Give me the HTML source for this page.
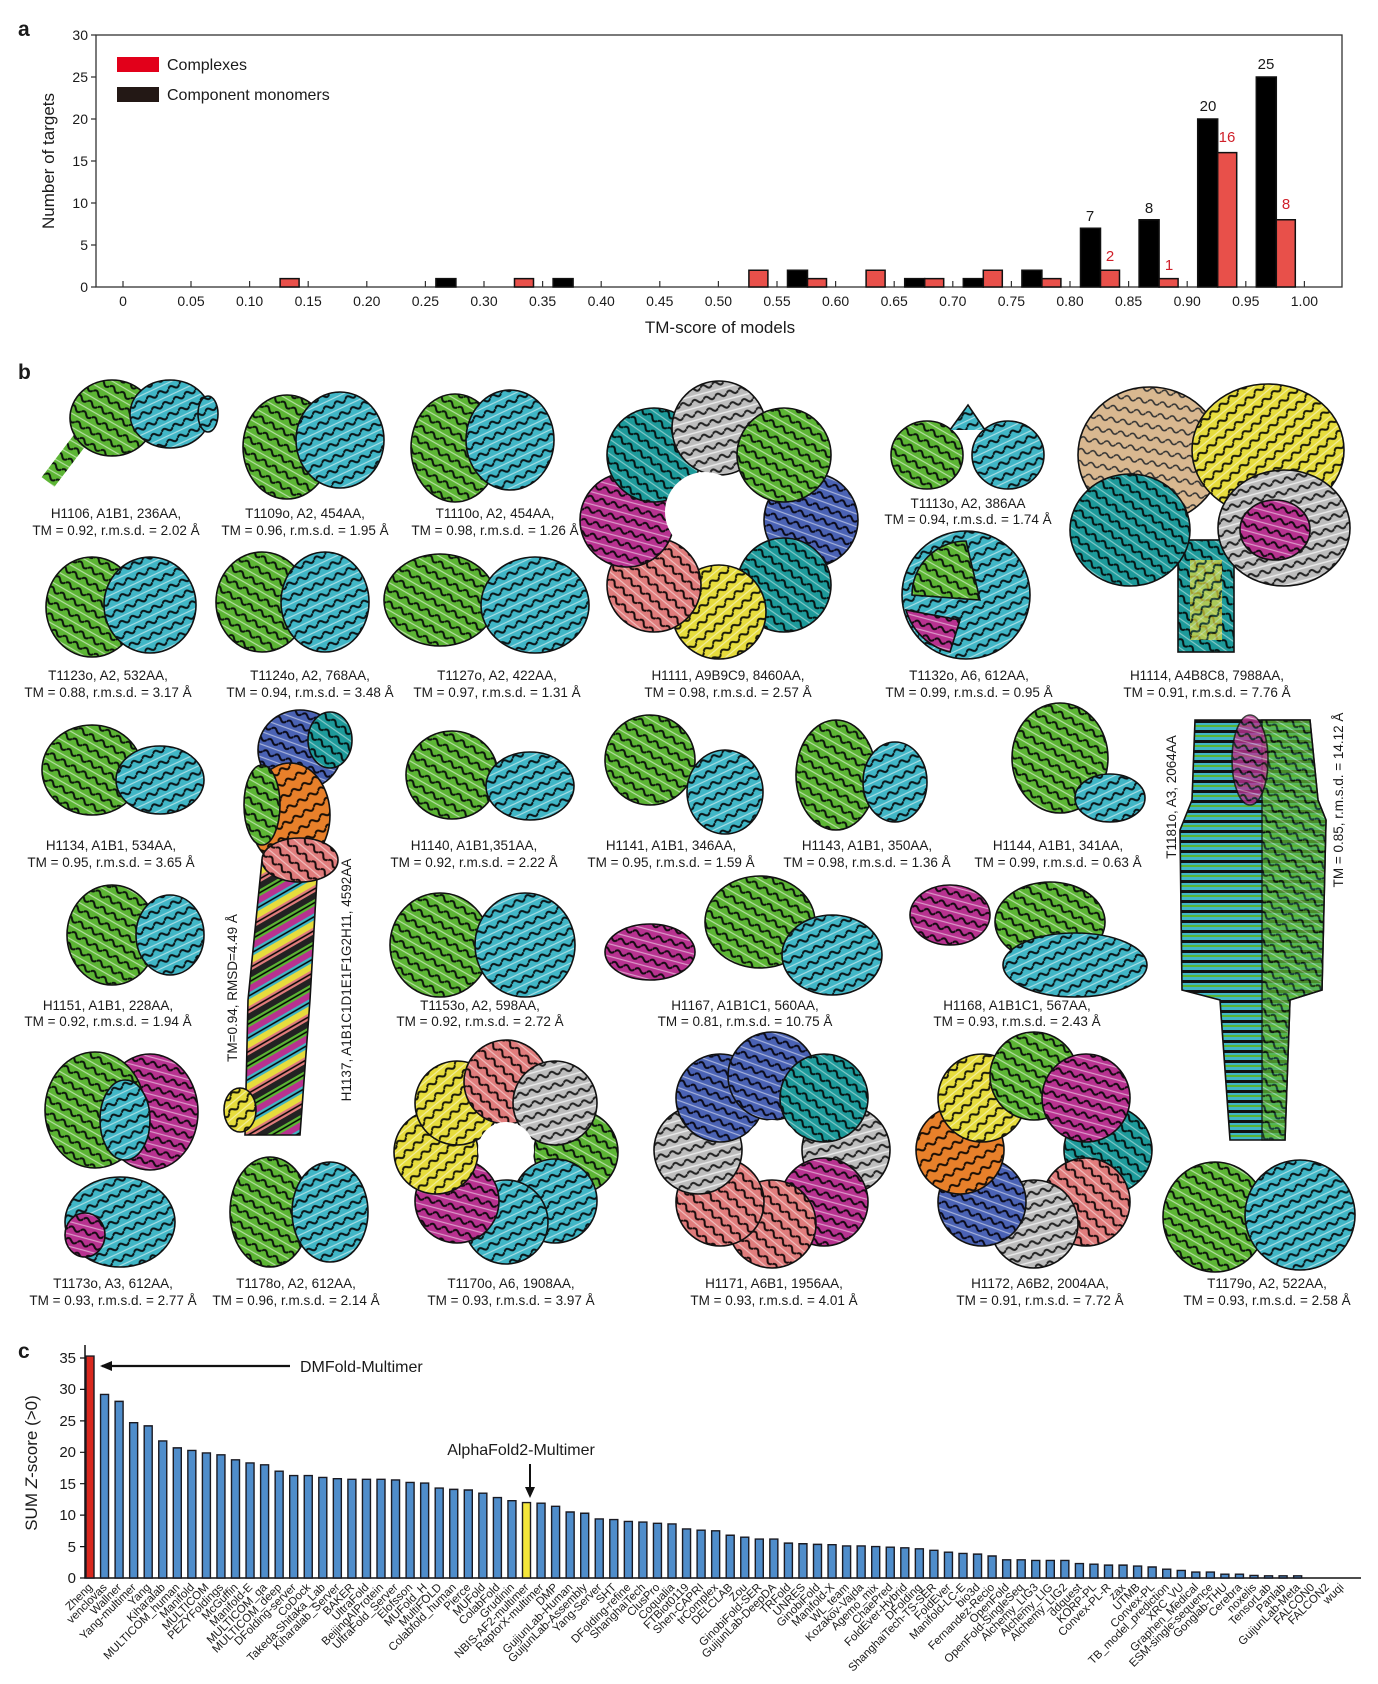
<!DOCTYPE html>
<html><head><meta charset="utf-8"><style>
html,body{margin:0;padding:0;background:#fff}
svg{display:block}
text{font-family:"Liberation Sans",sans-serif;fill:#1a1a1a}
.lb{font-size:13.5px;text-anchor:middle}
.tk{font-size:14px}
.cl{font-size:11.5px;fill:#333;text-anchor:end}
</style></head><body>
<svg width="1378" height="1684" viewBox="0 0 1378 1684" xmlns="http://www.w3.org/2000/svg">
<defs>
<pattern id="G" width="12" height="12" patternUnits="userSpaceOnUse" patternTransform="rotate(30)"><rect width="12" height="12" fill="#5cb534"/><path d="M0 4 Q3 0 6 4 T12 4" stroke="#0c150c" stroke-width="2" fill="none"/><path d="M0 10 h12" stroke="#fff" stroke-width="1.2" opacity=".55"/></pattern>
<pattern id="C" width="12" height="12" patternUnits="userSpaceOnUse" patternTransform="rotate(-25)"><rect width="12" height="12" fill="#40b6c6"/><path d="M0 4 Q3 0 6 4 T12 4" stroke="#0a1518" stroke-width="2" fill="none"/><path d="M0 10 h12" stroke="#fff" stroke-width="1.2" opacity=".55"/></pattern>
<pattern id="M" width="12" height="12" patternUnits="userSpaceOnUse" patternTransform="rotate(15)"><rect width="12" height="12" fill="#b83290"/><path d="M0 4 Q3 0 6 4 T12 4" stroke="#150a12" stroke-width="2" fill="none"/><path d="M0 10 h12" stroke="#fff" stroke-width="1.2" opacity=".5"/></pattern>
<pattern id="P" width="12" height="12" patternUnits="userSpaceOnUse" patternTransform="rotate(40)"><rect width="12" height="12" fill="#e07c7c"/><path d="M0 4 Q3 0 6 4 T12 4" stroke="#1a0c0c" stroke-width="2" fill="none"/><path d="M0 10 h12" stroke="#fff" stroke-width="1.2" opacity=".5"/></pattern>
<pattern id="Y" width="12" height="12" patternUnits="userSpaceOnUse" patternTransform="rotate(-40)"><rect width="12" height="12" fill="#e6dc3c"/><path d="M0 4 Q3 0 6 4 T12 4" stroke="#1a1a0a" stroke-width="2" fill="none"/><path d="M0 10 h12" stroke="#fff" stroke-width="1.2" opacity=".5"/></pattern>
<pattern id="B" width="12" height="12" patternUnits="userSpaceOnUse" patternTransform="rotate(20)"><rect width="12" height="12" fill="#4a62b4"/><path d="M0 4 Q3 0 6 4 T12 4" stroke="#0a0a1a" stroke-width="2" fill="none"/><path d="M0 10 h12" stroke="#fff" stroke-width="1.2" opacity=".5"/></pattern>
<pattern id="W" width="12" height="12" patternUnits="userSpaceOnUse" patternTransform="rotate(-15)"><rect width="12" height="12" fill="#bdbdbd"/><path d="M0 4 Q3 0 6 4 T12 4" stroke="#222" stroke-width="2" fill="none"/><path d="M0 10 h12" stroke="#fff" stroke-width="1.4" opacity=".7"/></pattern>
<pattern id="T" width="12" height="12" patternUnits="userSpaceOnUse" patternTransform="rotate(35)"><rect width="12" height="12" fill="#1d9a9a"/><path d="M0 4 Q3 0 6 4 T12 4" stroke="#061414" stroke-width="2" fill="none"/><path d="M0 10 h12" stroke="#fff" stroke-width="1.2" opacity=".45"/></pattern>
<pattern id="O" width="12" height="12" patternUnits="userSpaceOnUse" patternTransform="rotate(-30)"><rect width="12" height="12" fill="#e8802a"/><path d="M0 4 Q3 0 6 4 T12 4" stroke="#1a0e05" stroke-width="2" fill="none"/></pattern>
<pattern id="N" width="12" height="12" patternUnits="userSpaceOnUse" patternTransform="rotate(10)"><rect width="12" height="12" fill="#d9b890"/><path d="M0 4 Q3 0 6 4 T12 4" stroke="#333" stroke-width="1.6" fill="none"/></pattern>
<pattern id="R" width="36" height="36" patternUnits="userSpaceOnUse" patternTransform="rotate(-30)"><rect width="36" height="36" fill="#222"/><rect y="0" width="36" height="6" fill="#5cb534"/><rect y="6" width="36" height="6" fill="#b83290"/><rect y="12" width="36" height="6" fill="#40b6c6"/><rect y="18" width="36" height="6" fill="#e6dc3c"/><rect y="24" width="36" height="6" fill="#e07c7c"/><path d="M0 3 h36 M0 15 h36 M0 27 h36" stroke="#000" stroke-width="1.5"/></pattern>
<pattern id="S" width="10" height="10" patternUnits="userSpaceOnUse"><rect width="10" height="10" fill="#40b6c6"/><rect width="10" height="3" fill="#111"/><rect y="5" width="10" height="2" fill="#5cb534"/></pattern>
</defs>

<!-- ===== Panel a ===== -->
<text x="18" y="36" style="font-size:21px;font-weight:bold">a</text>
<rect x="96" y="35" width="1246" height="252" fill="none" stroke="#333" stroke-width="1.3"/>
<g class="tk" text-anchor="end">
<text x="88" y="292">0</text><text x="88" y="250">5</text><text x="88" y="208">10</text><text x="88" y="166">15</text><text x="88" y="124">20</text><text x="88" y="82">25</text><text x="88" y="40">30</text>
</g>
<path d="M91 287h5M91 245h5M91 203h5M91 161h5M91 119h5M91 77h5M91 35h5" stroke="#333" stroke-width="1.2"/>
<path d="M123 281v6M191 281v6M249.6 281v6M308.2 281v6M366.8 281v6M425.4 281v6M484 281v6M542.6 281v6M601.2 281v6M659.8 281v6M718.4 281v6M777 281v6M835.6 281v6M894.2 281v6M952.8 281v6M1011.4 281v6M1070 281v6M1128.6 281v6M1187.2 281v6M1245.8 281v6M1304.4 281v6" stroke="#333" stroke-width="1.2"/>
<g class="tk" text-anchor="middle">
<text x="123" y="306">0</text><text x="191" y="306">0.05</text><text x="249.6" y="306">0.10</text><text x="308.2" y="306">0.15</text><text x="366.8" y="306">0.20</text><text x="425.4" y="306">0.25</text><text x="484" y="306">0.30</text><text x="542.6" y="306">0.35</text><text x="601.2" y="306">0.40</text><text x="659.8" y="306">0.45</text><text x="718.4" y="306">0.50</text><text x="777" y="306">0.55</text><text x="835.6" y="306">0.60</text><text x="894.2" y="306">0.65</text><text x="952.8" y="306">0.70</text><text x="1011.4" y="306">0.75</text><text x="1070" y="306">0.80</text><text x="1128.6" y="306">0.85</text><text x="1187.2" y="306">0.90</text><text x="1245.8" y="306">0.95</text><text x="1304.4" y="306">1.00</text>
</g>
<text x="720" y="333" text-anchor="middle" style="font-size:17px">TM-score of models</text>
<text transform="translate(54,161) rotate(-90)" text-anchor="middle" style="font-size:17px">Number of targets</text>
<rect x="117" y="57" width="42" height="15" fill="#e2001a"/>
<text x="167" y="70" style="font-size:16px">Complexes</text>
<rect x="117" y="87" width="42" height="15" fill="#231815"/>
<text x="167" y="100" style="font-size:16px">Component monomers</text>
<g transform="translate(0,287) scale(1,-8.4)" stroke="#111" stroke-width="1.5">
<g fill="#000">
<rect x="435.9" y="0" width="20" height="1" vector-effect="non-scaling-stroke"/>
<rect x="553.1" y="0" width="20" height="1" vector-effect="non-scaling-stroke"/>
<rect x="787.5" y="0" width="20" height="2" vector-effect="non-scaling-stroke"/>
<rect x="904.7" y="0" width="20" height="1" vector-effect="non-scaling-stroke"/>
<rect x="963.3" y="0" width="20" height="1" vector-effect="non-scaling-stroke"/>
<rect x="1021.9" y="0" width="20" height="2" vector-effect="non-scaling-stroke"/>
<rect x="1080.5" y="0" width="20" height="7" vector-effect="non-scaling-stroke"/>
<rect x="1139.1" y="0" width="20" height="8" vector-effect="non-scaling-stroke"/>
<rect x="1197.7" y="0" width="20" height="20" vector-effect="non-scaling-stroke"/>
<rect x="1256.3" y="0" width="20" height="25" vector-effect="non-scaling-stroke"/>
</g>
<g fill="#e8504a">
<rect x="280.1" y="0" width="19" height="1" vector-effect="non-scaling-stroke"/>
<rect x="514.5" y="0" width="19" height="1" vector-effect="non-scaling-stroke"/>
<rect x="748.9" y="0" width="19" height="2" vector-effect="non-scaling-stroke"/>
<rect x="807.5" y="0" width="19" height="1" vector-effect="non-scaling-stroke"/>
<rect x="866.1" y="0" width="19" height="2" vector-effect="non-scaling-stroke"/>
<rect x="924.7" y="0" width="19" height="1" vector-effect="non-scaling-stroke"/>
<rect x="983.3" y="0" width="19" height="2" vector-effect="non-scaling-stroke"/>
<rect x="1041.9" y="0" width="19" height="1" vector-effect="non-scaling-stroke"/>
<rect x="1100.5" y="0" width="19" height="2" vector-effect="non-scaling-stroke"/>
<rect x="1159.1" y="0" width="19" height="1" vector-effect="non-scaling-stroke"/>
<rect x="1217.7" y="0" width="19" height="16" vector-effect="non-scaling-stroke"/>
<rect x="1276.3" y="0" width="19" height="8" vector-effect="non-scaling-stroke"/>
</g>
</g>
<g style="font-size:15px" text-anchor="middle">
<text x="1090" y="221">7</text><text x="1149" y="213">8</text><text x="1208" y="111">20</text><text x="1266" y="69">25</text>
<text x="1110" y="261" style="fill:#d0202a">2</text><text x="1169" y="270" style="fill:#d0202a">1</text><text x="1227" y="142" style="fill:#d0202a">16</text><text x="1286" y="209" style="fill:#d0202a">8</text>
</g>

<!-- ===== Panel b ===== -->
<text x="18" y="379" style="font-size:21px;font-weight:bold">b</text>
<g stroke="#111" stroke-width="1.6">
<!-- H1106 -->
<path d="M48 482 L80 440 L112 412" stroke="url(#G)" stroke-width="16" fill="none"/>
<ellipse cx="112" cy="418" rx="42" ry="38" fill="url(#G)"/>
<ellipse cx="170" cy="414" rx="40" ry="34" fill="url(#C)"/>
<ellipse cx="208" cy="414" rx="10" ry="18" fill="url(#C)"/>
<!-- T1109o -->
<ellipse cx="287" cy="447" rx="44" ry="52" fill="url(#G)"/>
<ellipse cx="340" cy="440" rx="44" ry="48" fill="url(#C)"/>
<!-- T1110o -->
<ellipse cx="455" cy="448" rx="44" ry="54" fill="url(#G)"/>
<ellipse cx="510" cy="440" rx="44" ry="50" fill="url(#C)"/>
<!-- H1111 ring -->
<circle cx="811" cy="520" r="47" fill="url(#B)"/>
<circle cx="784" cy="585" r="47" fill="url(#T)"/>
<circle cx="719" cy="612" r="47" fill="url(#Y)"/>
<circle cx="654" cy="585" r="47" fill="url(#P)"/>
<circle cx="627" cy="520" r="47" fill="url(#M)"/>
<circle cx="654" cy="455" r="47" fill="url(#T)"/>
<circle cx="719" cy="428" r="47" fill="url(#W)"/>
<circle cx="784" cy="455" r="47" fill="url(#G)"/>
<circle cx="705" cy="512" r="40" fill="#fff" stroke="none"/>
<!-- T1113o -->
<ellipse cx="927" cy="455" rx="36" ry="34" fill="url(#G)"/>
<ellipse cx="1008" cy="455" rx="36" ry="34" fill="url(#C)"/>
<path d="M950 430 L968 405 L985 430" fill="url(#C)"/>
<!-- H1114 -->
<rect x="1178" y="540" width="56" height="112" fill="url(#T)"/>
<rect x="1190" y="560" width="32" height="80" fill="url(#Y)" stroke="none" opacity=".7"/>
<ellipse cx="1150" cy="455" rx="72" ry="68" fill="url(#N)"/>
<ellipse cx="1268" cy="450" rx="76" ry="66" fill="url(#Y)"/>
<ellipse cx="1130" cy="530" rx="60" ry="56" fill="url(#T)"/>
<ellipse cx="1284" cy="528" rx="66" ry="58" fill="url(#W)"/>
<ellipse cx="1275" cy="530" rx="35" ry="30" fill="url(#M)"/>
<!-- T1123o -->
<ellipse cx="92" cy="607" rx="46" ry="50" fill="url(#G)"/>
<ellipse cx="150" cy="605" rx="46" ry="48" fill="url(#C)"/>
<!-- T1124o -->
<ellipse cx="262" cy="602" rx="46" ry="50" fill="url(#G)"/>
<ellipse cx="325" cy="602" rx="44" ry="50" fill="url(#C)"/>
<!-- T1127o -->
<ellipse cx="440" cy="600" rx="56" ry="46" fill="url(#G)"/>
<ellipse cx="535" cy="605" rx="54" ry="48" fill="url(#C)"/>
<!-- T1132o -->
<circle cx="966" cy="595" r="64" fill="url(#C)"/>
<path d="M912 595 A54 54 0 0 1 966 541 L980 600 Z" fill="url(#G)"/>
<path d="M906 610 A60 60 0 0 0 950 652 L960 620 Z" fill="url(#M)"/>
<!-- H1134 -->
<ellipse cx="92" cy="770" rx="50" ry="45" fill="url(#G)"/>
<ellipse cx="160" cy="780" rx="44" ry="34" fill="url(#C)"/>
<!-- H1137 -->
<path d="M262 860 L318 860 L310 1000 L300 1135 L245 1135 L248 1000 Z" fill="url(#R)"/>
<ellipse cx="300" cy="750" rx="42" ry="40" fill="url(#B)"/>
<ellipse cx="330" cy="740" rx="22" ry="28" fill="url(#T)"/>
<ellipse cx="290" cy="815" rx="40" ry="52" fill="url(#O)"/>
<ellipse cx="262" cy="805" rx="18" ry="40" fill="url(#G)"/>
<ellipse cx="300" cy="860" rx="38" ry="22" fill="url(#P)"/>
<ellipse cx="240" cy="1110" rx="16" ry="22" fill="url(#Y)"/>
<!-- H1140 -->
<ellipse cx="452" cy="775" rx="46" ry="44" fill="url(#G)"/>
<ellipse cx="530" cy="786" rx="44" ry="34" fill="url(#C)"/>
<!-- H1141 -->
<ellipse cx="650" cy="760" rx="45" ry="45" fill="url(#G)"/>
<ellipse cx="725" cy="792" rx="38" ry="42" fill="url(#C)"/>
<!-- H1143 -->
<ellipse cx="836" cy="775" rx="40" ry="55" fill="url(#G)"/>
<ellipse cx="895" cy="782" rx="32" ry="40" fill="url(#C)"/>
<!-- H1144 -->
<ellipse cx="1060" cy="758" rx="48" ry="55" fill="url(#G)"/>
<ellipse cx="1110" cy="798" rx="35" ry="24" fill="url(#C)"/>
<!-- T1181o -->
<path d="M1195 720 L1310 720 L1318 800 L1326 820 L1322 990 L1290 1000 L1285 1140 L1230 1140 L1220 1000 L1182 990 L1180 830 L1192 800 Z" fill="url(#S)"/>
<path d="M1262 720 L1310 720 L1318 800 L1326 820 L1322 990 L1290 1000 L1285 1140 L1262 1140 Z" fill="url(#G)" opacity=".75"/>
<ellipse cx="1250" cy="760" rx="18" ry="45" fill="url(#M)" opacity=".8"/>
<!-- H1151 -->
<ellipse cx="112" cy="935" rx="45" ry="50" fill="url(#G)"/>
<ellipse cx="170" cy="935" rx="34" ry="40" fill="url(#C)"/>
<!-- T1153o -->
<ellipse cx="440" cy="945" rx="50" ry="52" fill="url(#G)"/>
<ellipse cx="525" cy="945" rx="50" ry="52" fill="url(#C)"/>
<!-- H1167 -->
<ellipse cx="650" cy="952" rx="45" ry="28" fill="url(#M)"/>
<ellipse cx="760" cy="922" rx="55" ry="46" fill="url(#G)"/>
<ellipse cx="832" cy="955" rx="50" ry="40" fill="url(#C)"/>
<!-- H1168 -->
<ellipse cx="950" cy="915" rx="40" ry="30" fill="url(#M)"/>
<ellipse cx="1050" cy="922" rx="55" ry="40" fill="url(#G)"/>
<ellipse cx="1075" cy="965" rx="72" ry="32" fill="url(#C)"/>
<!-- T1173o -->
<ellipse cx="120" cy="1222" rx="55" ry="45" fill="url(#C)"/>
<ellipse cx="85" cy="1235" rx="20" ry="22" fill="url(#M)"/>
<ellipse cx="150" cy="1112" rx="48" ry="58" fill="url(#M)"/>
<ellipse cx="95" cy="1110" rx="50" ry="58" fill="url(#G)"/>
<ellipse cx="125" cy="1120" rx="25" ry="40" fill="url(#C)"/>
<!-- T1178o -->
<ellipse cx="270" cy="1212" rx="40" ry="55" fill="url(#G)"/>
<ellipse cx="330" cy="1212" rx="38" ry="50" fill="url(#C)"/>
<!-- T1170o ring -->
<circle cx="576" cy="1152" r="42" fill="url(#G)"/>
<circle cx="555" cy="1201" r="42" fill="url(#C)"/>
<circle cx="506" cy="1222" r="42" fill="url(#C)"/>
<circle cx="457" cy="1201" r="42" fill="url(#M)"/>
<circle cx="436" cy="1152" r="42" fill="url(#Y)"/>
<circle cx="457" cy="1103" r="42" fill="url(#Y)"/>
<circle cx="506" cy="1082" r="42" fill="url(#P)"/>
<circle cx="555" cy="1103" r="42" fill="url(#W)"/>
<circle cx="506" cy="1150" r="28" fill="#fff" stroke="none"/>
<!-- H1171 ring -->
<circle cx="846" cy="1150" r="44" fill="url(#W)"/>
<circle cx="824" cy="1202" r="44" fill="url(#M)"/>
<circle cx="772" cy="1224" r="44" fill="url(#P)"/>
<circle cx="720" cy="1202" r="44" fill="url(#P)"/>
<circle cx="698" cy="1150" r="44" fill="url(#W)"/>
<circle cx="720" cy="1098" r="44" fill="url(#B)"/>
<circle cx="772" cy="1076" r="44" fill="url(#B)"/>
<circle cx="824" cy="1098" r="44" fill="url(#T)"/>
<circle cx="772" cy="1148" r="28" fill="#fff" stroke="none"/>
<!-- H1172 ring -->
<circle cx="1108" cy="1150" r="44" fill="url(#T)"/>
<circle cx="1086" cy="1202" r="44" fill="url(#P)"/>
<circle cx="1034" cy="1224" r="44" fill="url(#W)"/>
<circle cx="982" cy="1202" r="44" fill="url(#B)"/>
<circle cx="960" cy="1150" r="44" fill="url(#O)"/>
<circle cx="982" cy="1098" r="44" fill="url(#Y)"/>
<circle cx="1034" cy="1076" r="44" fill="url(#G)"/>
<circle cx="1086" cy="1098" r="44" fill="url(#M)"/>
<circle cx="1034" cy="1148" r="26" fill="#fff" stroke="none"/>
<!-- T1179o -->
<ellipse cx="1215" cy="1217" rx="52" ry="55" fill="url(#G)"/>
<ellipse cx="1300" cy="1215" rx="55" ry="55" fill="url(#C)"/>
</g>

<g class="lb">
<text x="116" y="518">H1106, A1B1, 236AA,</text><text x="116" y="535">TM = 0.92, r.m.s.d. = 2.02 Å</text>
<text x="305" y="518">T1109o, A2, 454AA,</text><text x="305" y="535">TM = 0.96, r.m.s.d. = 1.95 Å</text>
<text x="495" y="518">T1110o, A2, 454AA,</text><text x="495" y="535">TM = 0.98, r.m.s.d. = 1.26 Å</text>
<text x="968" y="508">T1113o, A2, 386AA</text><text x="968" y="524">TM = 0.94, r.m.s.d. = 1.74 Å</text>
<text x="108" y="680">T1123o, A2, 532AA,</text><text x="108" y="697">TM = 0.88, r.m.s.d. = 3.17 Å</text>
<text x="310" y="680">T1124o, A2, 768AA,</text><text x="310" y="697">TM = 0.94, r.m.s.d. = 3.48 Å</text>
<text x="497" y="680">T1127o, A2, 422AA,</text><text x="497" y="697">TM = 0.97, r.m.s.d. = 1.31 Å</text>
<text x="728" y="680">H1111, A9B9C9, 8460AA,</text><text x="728" y="697">TM = 0.98, r.m.s.d. = 2.57 Å</text>
<text x="969" y="680">T1132o, A6, 612AA,</text><text x="969" y="697">TM = 0.99, r.m.s.d. = 0.95 Å</text>
<text x="1207" y="680">H1114, A4B8C8, 7988AA,</text><text x="1207" y="697">TM = 0.91, r.m.s.d. = 7.76 Å</text>
<text x="111" y="850">H1134, A1B1, 534AA,</text><text x="111" y="867">TM = 0.95, r.m.s.d. = 3.65 Å</text>
<text x="474" y="850">H1140, A1B1,351AA,</text><text x="474" y="867">TM = 0.92, r.m.s.d. = 2.22 Å</text>
<text x="671" y="850">H1141, A1B1, 346AA,</text><text x="671" y="867">TM = 0.95, r.m.s.d. = 1.59 Å</text>
<text x="867" y="850">H1143, A1B1, 350AA,</text><text x="867" y="867">TM = 0.98, r.m.s.d. = 1.36 Å</text>
<text x="1058" y="850">H1144, A1B1, 341AA,</text><text x="1058" y="867">TM = 0.99, r.m.s.d. = 0.63 Å</text>
<text x="108" y="1010">H1151, A1B1, 228AA,</text><text x="108" y="1026">TM = 0.92, r.m.s.d. = 1.94 Å</text>
<text x="480" y="1010">T1153o, A2, 598AA,</text><text x="480" y="1026">TM = 0.92, r.m.s.d. = 2.72 Å</text>
<text x="745" y="1010">H1167, A1B1C1, 560AA,</text><text x="745" y="1026">TM = 0.81, r.m.s.d. = 10.75 Å</text>
<text x="1017" y="1010">H1168, A1B1C1, 567AA,</text><text x="1017" y="1026">TM = 0.93, r.m.s.d. = 2.43 Å</text>
<text x="113" y="1288">T1173o, A3, 612AA,</text><text x="113" y="1305">TM = 0.93, r.m.s.d. = 2.77 Å</text>
<text x="296" y="1288">T1178o, A2, 612AA,</text><text x="296" y="1305">TM = 0.96, r.m.s.d. = 2.14 Å</text>
<text x="511" y="1288">T1170o, A6, 1908AA,</text><text x="511" y="1305">TM = 0.93, r.m.s.d. = 3.97 Å</text>
<text x="774" y="1288">H1171, A6B1, 1956AA,</text><text x="774" y="1305">TM = 0.93, r.m.s.d. = 4.01 Å</text>
<text x="1040" y="1288">H1172, A6B2, 2004AA,</text><text x="1040" y="1305">TM = 0.91, r.m.s.d. = 7.72 Å</text>
<text x="1267" y="1288">T1179o, A2, 522AA,</text><text x="1267" y="1305">TM = 0.93, r.m.s.d. = 2.58 Å</text>
<text transform="translate(237,988) rotate(-90)">TM=0.94, RMSD=4.49 Å</text>
<text transform="translate(351,980) rotate(-90)">H1137, A1B1C1D1E1F1G2H11, 4592AA</text>
<text transform="translate(1176,797) rotate(-90)">T1181o, A3, 2064AA</text>
<text transform="translate(1343,800) rotate(-90)">TM = 0.85, r.m.s.d. = 14.12 Å</text>
</g>

<!-- ===== Panel c ===== -->
<text x="18" y="1358" style="font-size:21px;font-weight:bold">c</text>
<path d="M85 1345 V1578 H1361" fill="none" stroke="#111" stroke-width="1.5"/>
<path d="M80 1578h5M80 1546.6h5M80 1515.1h5M80 1483.7h5M80 1452.3h5M80 1420.9h5M80 1389.4h5M80 1358h5" stroke="#111" stroke-width="1.2"/>
<g class="tk" text-anchor="end" style="font-size:15px">
<text x="76" y="1583">0</text><text x="76" y="1552">5</text><text x="76" y="1520">10</text><text x="76" y="1489">15</text><text x="76" y="1457">20</text><text x="76" y="1426">25</text><text x="76" y="1394">30</text><text x="76" y="1363">35</text>
</g>
<text transform="translate(37,1463) rotate(-90)" text-anchor="middle" style="font-size:17px">SUM <tspan font-style="italic">Z</tspan>-score (&gt;0)</text>
<g transform="translate(0,1578) scale(1,-6.286)" stroke="#1a1a22" stroke-width="1.4" fill="#4f8dcb">
<rect x="86" width="8" height="35.3" fill="#d8281e" vector-effect="non-scaling-stroke"/>
<rect x="100.55" width="8" height="29.2" vector-effect="non-scaling-stroke"/>
<rect x="115.1" width="8" height="28.1" vector-effect="non-scaling-stroke"/>
<rect x="129.65" width="8" height="24.7" vector-effect="non-scaling-stroke"/>
<rect x="144.2" width="8" height="24.2" vector-effect="non-scaling-stroke"/>
<rect x="158.75" width="8" height="21.8" vector-effect="non-scaling-stroke"/>
<rect x="173.3" width="8" height="20.7" vector-effect="non-scaling-stroke"/>
<rect x="187.85" width="8" height="20.3" vector-effect="non-scaling-stroke"/>
<rect x="202.4" width="8" height="19.9" vector-effect="non-scaling-stroke"/>
<rect x="216.95" width="8" height="19.6" vector-effect="non-scaling-stroke"/>
<rect x="231.5" width="8" height="18.8" vector-effect="non-scaling-stroke"/>
<rect x="246.05" width="8" height="18.3" vector-effect="non-scaling-stroke"/>
<rect x="260.6" width="8" height="18.0" vector-effect="non-scaling-stroke"/>
<rect x="275.15" width="8" height="17.0" vector-effect="non-scaling-stroke"/>
<rect x="289.7" width="8" height="16.3" vector-effect="non-scaling-stroke"/>
<rect x="304.25" width="8" height="16.3" vector-effect="non-scaling-stroke"/>
<rect x="318.8" width="8" height="16.0" vector-effect="non-scaling-stroke"/>
<rect x="333.35" width="8" height="15.8" vector-effect="non-scaling-stroke"/>
<rect x="347.9" width="8" height="15.7" vector-effect="non-scaling-stroke"/>
<rect x="362.45" width="8" height="15.7" vector-effect="non-scaling-stroke"/>
<rect x="377" width="8" height="15.7" vector-effect="non-scaling-stroke"/>
<rect x="391.55" width="8" height="15.6" vector-effect="non-scaling-stroke"/>
<rect x="406.1" width="8" height="15.2" vector-effect="non-scaling-stroke"/>
<rect x="420.65" width="8" height="15.1" vector-effect="non-scaling-stroke"/>
<rect x="435.2" width="8" height="14.3" vector-effect="non-scaling-stroke"/>
<rect x="449.75" width="8" height="14.1" vector-effect="non-scaling-stroke"/>
<rect x="464.3" width="8" height="14.0" vector-effect="non-scaling-stroke"/>
<rect x="478.85" width="8" height="13.5" vector-effect="non-scaling-stroke"/>
<rect x="493.4" width="8" height="12.8" vector-effect="non-scaling-stroke"/>
<rect x="507.95" width="8" height="12.3" vector-effect="non-scaling-stroke"/>
<rect x="522.5" width="8" height="12.0" fill="#f4e63a" vector-effect="non-scaling-stroke"/>
<rect x="537.05" width="8" height="11.9" vector-effect="non-scaling-stroke"/>
<rect x="551.6" width="8" height="11.4" vector-effect="non-scaling-stroke"/>
<rect x="566.15" width="8" height="10.5" vector-effect="non-scaling-stroke"/>
<rect x="580.7" width="8" height="10.3" vector-effect="non-scaling-stroke"/>
<rect x="595.25" width="8" height="9.4" vector-effect="non-scaling-stroke"/>
<rect x="609.8" width="8" height="9.3" vector-effect="non-scaling-stroke"/>
<rect x="624.35" width="8" height="9.0" vector-effect="non-scaling-stroke"/>
<rect x="638.9" width="8" height="8.9" vector-effect="non-scaling-stroke"/>
<rect x="653.45" width="8" height="8.7" vector-effect="non-scaling-stroke"/>
<rect x="668" width="8" height="8.6" vector-effect="non-scaling-stroke"/>
<rect x="682.55" width="8" height="7.8" vector-effect="non-scaling-stroke"/>
<rect x="697.1" width="8" height="7.6" vector-effect="non-scaling-stroke"/>
<rect x="711.65" width="8" height="7.5" vector-effect="non-scaling-stroke"/>
<rect x="726.2" width="8" height="6.8" vector-effect="non-scaling-stroke"/>
<rect x="740.75" width="8" height="6.5" vector-effect="non-scaling-stroke"/>
<rect x="755.3" width="8" height="6.2" vector-effect="non-scaling-stroke"/>
<rect x="769.85" width="8" height="6.2" vector-effect="non-scaling-stroke"/>
<rect x="784.4" width="8" height="5.55" vector-effect="non-scaling-stroke"/>
<rect x="798.95" width="8" height="5.45" vector-effect="non-scaling-stroke"/>
<rect x="813.5" width="8" height="5.35" vector-effect="non-scaling-stroke"/>
<rect x="828.05" width="8" height="5.3" vector-effect="non-scaling-stroke"/>
<rect x="842.6" width="8" height="5.1" vector-effect="non-scaling-stroke"/>
<rect x="857.15" width="8" height="5.1" vector-effect="non-scaling-stroke"/>
<rect x="871.7" width="8" height="5.0" vector-effect="non-scaling-stroke"/>
<rect x="886.25" width="8" height="4.9" vector-effect="non-scaling-stroke"/>
<rect x="900.8" width="8" height="4.8" vector-effect="non-scaling-stroke"/>
<rect x="915.35" width="8" height="4.65" vector-effect="non-scaling-stroke"/>
<rect x="929.9" width="8" height="4.4" vector-effect="non-scaling-stroke"/>
<rect x="944.45" width="8" height="4.1" vector-effect="non-scaling-stroke"/>
<rect x="959" width="8" height="3.9" vector-effect="non-scaling-stroke"/>
<rect x="973.55" width="8" height="3.8" vector-effect="non-scaling-stroke"/>
<rect x="988.1" width="8" height="3.5" vector-effect="non-scaling-stroke"/>
<rect x="1002.65" width="8" height="2.9" vector-effect="non-scaling-stroke"/>
<rect x="1017.2" width="8" height="2.9" vector-effect="non-scaling-stroke"/>
<rect x="1031.75" width="8" height="2.8" vector-effect="non-scaling-stroke"/>
<rect x="1046.3" width="8" height="2.8" vector-effect="non-scaling-stroke"/>
<rect x="1060.85" width="8" height="2.8" vector-effect="non-scaling-stroke"/>
<rect x="1075.4" width="8" height="2.3" vector-effect="non-scaling-stroke"/>
<rect x="1089.95" width="8" height="2.2" vector-effect="non-scaling-stroke"/>
<rect x="1104.5" width="8" height="2.05" vector-effect="non-scaling-stroke"/>
<rect x="1119.05" width="8" height="2.05" vector-effect="non-scaling-stroke"/>
<rect x="1133.6" width="8" height="1.9" vector-effect="non-scaling-stroke"/>
<rect x="1148.15" width="8" height="1.75" vector-effect="non-scaling-stroke"/>
<rect x="1162.7" width="8" height="1.4" vector-effect="non-scaling-stroke"/>
<rect x="1177.25" width="8" height="1.2" vector-effect="non-scaling-stroke"/>
<rect x="1191.8" width="8" height="0.95" vector-effect="non-scaling-stroke"/>
<rect x="1206.35" width="8" height="0.95" vector-effect="non-scaling-stroke"/>
<rect x="1220.9" width="8" height="0.6" vector-effect="non-scaling-stroke"/>
<rect x="1235.45" width="8" height="0.6" vector-effect="non-scaling-stroke"/>
<rect x="1250" width="8" height="0.4" vector-effect="non-scaling-stroke"/>
<rect x="1264.55" width="8" height="0.35" vector-effect="non-scaling-stroke"/>
<rect x="1279.1" width="8" height="0.35" vector-effect="non-scaling-stroke"/>
<rect x="1293.65" width="8" height="0.35" vector-effect="non-scaling-stroke"/>
</g>
<!-- annotations -->
<path d="M102 1366 H290" stroke="#111" stroke-width="2.2"/>
<path d="M100 1366 l12 -5 v10 z" fill="#111"/>
<text x="300" y="1372" style="font-size:16px">DMFold-Multimer</text>
<text x="521" y="1455" text-anchor="middle" style="font-size:16px">AlphaFold2-Multimer</text>
<path d="M530 1464 V1492" stroke="#111" stroke-width="2"/>
<path d="M530 1498 l-5 -11 h10 z" fill="#111"/>
<g class="cl">
<text transform="translate(93,1588) rotate(-45)">Zheng</text>
<text transform="translate(107.55,1588) rotate(-45)">venclovas</text>
<text transform="translate(122.1,1588) rotate(-45)">Wallner</text>
<text transform="translate(136.65,1588) rotate(-45)">Yang-multimer</text>
<text transform="translate(151.2,1588) rotate(-45)">Yang</text>
<text transform="translate(165.75,1588) rotate(-45)">Kiharalab</text>
<text transform="translate(180.3,1588) rotate(-45)">MULTICOM_human</text>
<text transform="translate(194.85,1588) rotate(-45)">Manifold</text>
<text transform="translate(209.4,1588) rotate(-45)">MULTICOM</text>
<text transform="translate(223.95,1588) rotate(-45)">PEZYFoldings</text>
<text transform="translate(238.5,1588) rotate(-45)">McGuffin</text>
<text transform="translate(253.05,1588) rotate(-45)">Manifold-E</text>
<text transform="translate(267.6,1588) rotate(-45)">MULTICOM_qa</text>
<text transform="translate(282.15,1588) rotate(-45)">MULTICOM_deep</text>
<text transform="translate(296.7,1588) rotate(-45)">DFolding-server</text>
<text transform="translate(311.25,1588) rotate(-45)">CoDock</text>
<text transform="translate(325.8,1588) rotate(-45)">Takeda-Shitaka_Lab</text>
<text transform="translate(340.35,1588) rotate(-45)">Kiharalab_Server</text>
<text transform="translate(354.9,1588) rotate(-45)">BAKER</text>
<text transform="translate(369.45,1588) rotate(-45)">UltraFold</text>
<text transform="translate(384,1588) rotate(-45)">BeijingAIProtein</text>
<text transform="translate(398.55,1588) rotate(-45)">UltraFold_Server</text>
<text transform="translate(413.1,1588) rotate(-45)">Elofsson</text>
<text transform="translate(427.65,1588) rotate(-45)">MUFold_H</text>
<text transform="translate(442.2,1588) rotate(-45)">MultiFOLD</text>
<text transform="translate(456.75,1588) rotate(-45)">Colabfold_human</text>
<text transform="translate(471.3,1588) rotate(-45)">Pierce</text>
<text transform="translate(485.85,1588) rotate(-45)">MUFold</text>
<text transform="translate(500.4,1588) rotate(-45)">ColabFold</text>
<text transform="translate(514.95,1588) rotate(-45)">Grudinin</text>
<text transform="translate(529.5,1588) rotate(-45)">NBIS-AF2-multimer</text>
<text transform="translate(544.05,1588) rotate(-45)">RaptorX-multimer</text>
<text transform="translate(558.6,1588) rotate(-45)">DMP</text>
<text transform="translate(573.15,1588) rotate(-45)">GuijunLab-Human</text>
<text transform="translate(587.7,1588) rotate(-45)">GuijunLab-Assembly</text>
<text transform="translate(602.25,1588) rotate(-45)">Yang-Server</text>
<text transform="translate(616.8,1588) rotate(-45)">SHT</text>
<text transform="translate(631.35,1588) rotate(-45)">DFolding-refine</text>
<text transform="translate(645.9,1588) rotate(-45)">ShanghaiTech</text>
<text transform="translate(660.45,1588) rotate(-45)">ClusPro</text>
<text transform="translate(675,1588) rotate(-45)">Coqualia</text>
<text transform="translate(689.55,1588) rotate(-45)">FTBiot0119</text>
<text transform="translate(704.1,1588) rotate(-45)">Shen-CAPRI</text>
<text transform="translate(718.65,1588) rotate(-45)">trComplex</text>
<text transform="translate(733.2,1588) rotate(-45)">DELCLAB</text>
<text transform="translate(747.75,1588) rotate(-45)">Zou</text>
<text transform="translate(762.3,1588) rotate(-45)">GinobiFold-SER</text>
<text transform="translate(776.85,1588) rotate(-45)">GuijunLab-DeepDA</text>
<text transform="translate(791.4,1588) rotate(-45)">TRFold</text>
<text transform="translate(805.95,1588) rotate(-45)">UNRES</text>
<text transform="translate(820.5,1588) rotate(-45)">GinobiFold</text>
<text transform="translate(835.05,1588) rotate(-45)">Manifold-X</text>
<text transform="translate(849.6,1588) rotate(-45)">WL_team</text>
<text transform="translate(864.15,1588) rotate(-45)">Kozakov-Vajda</text>
<text transform="translate(878.7,1588) rotate(-45)">Agemo_mix</text>
<text transform="translate(893.25,1588) rotate(-45)">ChaePred</text>
<text transform="translate(907.8,1588) rotate(-45)">FoldEver-Hybrid</text>
<text transform="translate(922.35,1588) rotate(-45)">DFolding</text>
<text transform="translate(936.9,1588) rotate(-45)">ShanghaiTech-TS-SER</text>
<text transform="translate(951.45,1588) rotate(-45)">FoldEver</text>
<text transform="translate(966,1588) rotate(-45)">Manifold-LC-E</text>
<text transform="translate(980.55,1588) rotate(-45)">bio3d</text>
<text transform="translate(995.1,1588) rotate(-45)">Fernandez-Recio</text>
<text transform="translate(1009.65,1588) rotate(-45)">OpenFold</text>
<text transform="translate(1024.2,1588) rotate(-45)">OpenFold-SingleSeq</text>
<text transform="translate(1038.75,1588) rotate(-45)">Alchemy_LIG3</text>
<text transform="translate(1053.3,1588) rotate(-45)">Alchemy_LIG</text>
<text transform="translate(1067.85,1588) rotate(-45)">Alchemy_LIG2</text>
<text transform="translate(1082.4,1588) rotate(-45)">ddquest</text>
<text transform="translate(1096.95,1588) rotate(-45)">KORP-PL</text>
<text transform="translate(1111.5,1588) rotate(-45)">Convex-PL-R</text>
<text transform="translate(1126.05,1588) rotate(-45)">zax</text>
<text transform="translate(1140.6,1588) rotate(-45)">UTMB</text>
<text transform="translate(1155.15,1588) rotate(-45)">Convex-PL</text>
<text transform="translate(1169.7,1588) rotate(-45)">TB_model_prediction</text>
<text transform="translate(1184.25,1588) rotate(-45)">XRC_VU</text>
<text transform="translate(1198.8,1588) rotate(-45)">Graphen_Medical</text>
<text transform="translate(1213.35,1588) rotate(-45)">ESM-single-sequence</text>
<text transform="translate(1227.9,1588) rotate(-45)">Gonglab-THU</text>
<text transform="translate(1242.45,1588) rotate(-45)">Cerebra</text>
<text transform="translate(1257,1588) rotate(-45)">noxelis</text>
<text transform="translate(1271.55,1588) rotate(-45)">TensorLab</text>
<text transform="translate(1286.1,1588) rotate(-45)">Panlab</text>
<text transform="translate(1300.65,1588) rotate(-45)">GuijunLab-Meta</text>
<text transform="translate(1315.2,1588) rotate(-45)">FALCON0</text>
<text transform="translate(1329.75,1588) rotate(-45)">FALCON2</text>
<text transform="translate(1344.3,1588) rotate(-45)">wuqi</text>
</g>
</svg>
</body></html>
